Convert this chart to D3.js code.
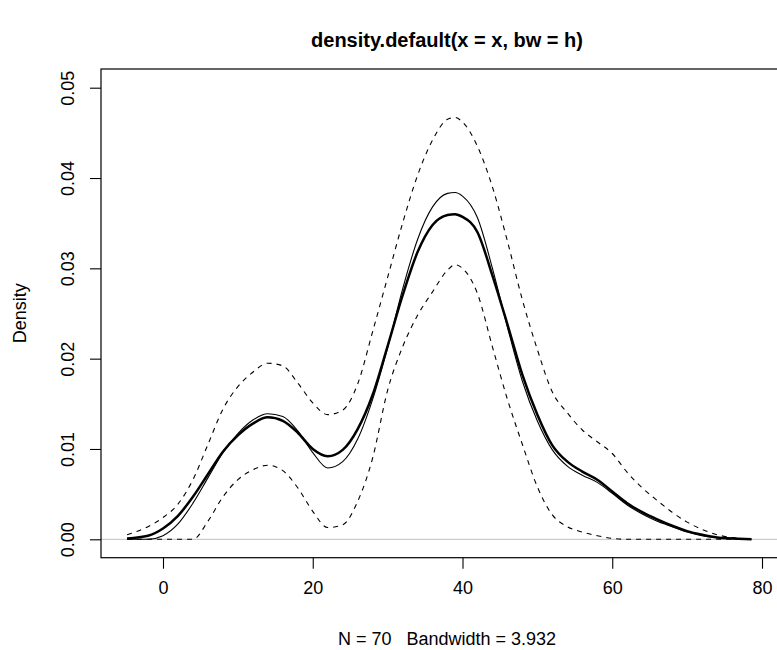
<!DOCTYPE html>
<html>
<head>
<meta charset="utf-8">
<script src="https://cdn.jsdelivr.net/npm/d3@7"></script>
<style>
  body { margin: 0; background: #fff; }
  svg text { font-family: "Liberation Sans", Arial, Helvetica, sans-serif; fill: #000; }
</style>
</head>
<body>
<svg id="vis-container"></svg>
<script>
const WIDTH = 777
const HEIGHT = 650
const BOX = { left: 101, top: 69, right: 793, bottom: 557.7 }
const CONTAINER = d3.select("#vis-container")

// grid of x positions the curves were read at
const xGrid = [-4.8, -2, 0, 2, 4, 6, 8, 10, 12, 14, 16, 18, 20, 22, 24, 26, 28, 30, 32, 34, 36, 38, 39, 40,
    42, 44, 46, 48, 50, 52, 54, 56, 58, 60, 62, 64, 66, 68, 70, 72, 74, 76, 78.6]

// thick solid: the density estimate
const estimate = [0.0001, 0.0004, 0.0012, 0.0026, 0.0047, 0.0072, 0.0097, 0.0115, 0.0128, 0.0135, 0.0131, 0.0118,
    0.0100, 0.0092, 0.0099, 0.0122, 0.0160, 0.0214, 0.0270, 0.0318, 0.0348, 0.0359, 0.0360, 0.0357,
    0.0340, 0.0292, 0.0238, 0.0182, 0.0138, 0.0104, 0.0086, 0.0075, 0.0066, 0.0053, 0.0040, 0.0030,
    0.0022, 0.0015, 0.0009, 0.0005, 0.0002, 0.0001, 0.0000]

// thin solid
const thinCurve = [0.0000, 0.0000, 0.0004, 0.0017, 0.0040, 0.0068, 0.0096, 0.0117, 0.0132, 0.0139, 0.0136, 0.0120,
    0.0096, 0.0079, 0.0086, 0.0111, 0.0155, 0.0212, 0.0277, 0.0332, 0.0368, 0.0383, 0.0384, 0.0380,
    0.0356, 0.0300, 0.0235, 0.0175, 0.0131, 0.0099, 0.0081, 0.0071, 0.0063, 0.0051, 0.0038, 0.0028,
    0.0020, 0.0014, 0.0008, 0.0004, 0.0002, 0.0001, 0.0000]

// dashed bands
const upperBand = [0.0005, 0.0014, 0.0024, 0.0039, 0.0066, 0.0105, 0.0144, 0.0169, 0.0185, 0.0195, 0.0192, 0.0173,
    0.0151, 0.0138, 0.0143, 0.0172, 0.0230, 0.0290, 0.0350, 0.0403, 0.0442, 0.0465, 0.0467, 0.0462,
    0.0435, 0.0390, 0.0330, 0.0265, 0.0210, 0.0163, 0.0140, 0.0121, 0.0108, 0.0095, 0.0074, 0.0057,
    0.0043, 0.0030, 0.0019, 0.0011, 0.0005, 0.0002, 0.0000]

const lowerBand = [0.0000, 0.0000, 0.0000, 0.0000, 0.0000, 0.0020, 0.0047, 0.0066, 0.0077, 0.0082, 0.0076, 0.0057,
    0.0031, 0.0013, 0.0016, 0.0042, 0.0090, 0.0165, 0.0213, 0.0248, 0.0274, 0.0298, 0.0304, 0.0300,
    0.0272, 0.0213, 0.0155, 0.0105, 0.0058, 0.0027, 0.0014, 0.0008, 0.0004, 0.0001, 0.0000, 0.0000,
    0.0000, 0.0000, 0.0000, 0.0000, 0.0000, 0.0000, 0.0000]

const xTicks = [0, 20, 40, 60, 80]
const yTicks = [0, 0.01, 0.02, 0.03, 0.04, 0.05]

const titleText = "density.default(x = x, bw = h)"
const xLabel = "N = 70   Bandwidth = 3.932"
const yLabel = "Density"

const x = d3.scaleLinear().domain([0, 80]).range([163, 762])
const y = d3.scaleLinear().domain([0, 0.05]).range([539.3, 87.7])

initVisualization()

function initVisualization() {
    CONTAINER
        .attr('width', WIDTH)
        .attr('height', HEIGHT)

    // zero reference line
    CONTAINER.append('line')
        .attr('x1', BOX.left).attr('x2', BOX.right)
        .attr('y1', y(0)).attr('y2', y(0))
        .attr('stroke', '#bebebe')
        .attr('stroke-width', 1)

    drawCurve(lowerBand, { width: 1.1, dash: '5,5' })
    drawCurve(upperBand, { width: 1.1, dash: '5,5' })
    drawCurve(thinCurve, { width: 1.1 })
    drawCurve(estimate, { width: 2.5 })

    // box
    CONTAINER.append('rect')
        .attr('x', BOX.left).attr('y', BOX.top)
        .attr('width', BOX.right - BOX.left)
        .attr('height', BOX.bottom - BOX.top)
        .attr('fill', 'none')
        .attr('stroke', '#000')
        .attr('stroke-width', 1.2)

    const xAxis = CONTAINER.append('g')
        .attr('transform', `translate(0,${BOX.bottom})`)
        .call(d3.axisBottom(x).tickValues(xTicks).tickSize(11).tickPadding(13).tickFormat(d3.format('d')))
    styleAxis(xAxis)
    xAxis.selectAll('text').attr('dy', '0.71em')

    const yAxis = CONTAINER.append('g')
        .attr('transform', `translate(${BOX.left},0)`)
        .call(d3.axisLeft(y).tickValues(yTicks).tickSize(11).tickFormat(d3.format('.2f')))
    styleAxis(yAxis)
    yAxis.selectAll('text')
        .attr('x', null).attr('dy', null)
        .attr('text-anchor', 'middle')
        .attr('transform', 'translate(-27,0) rotate(-90)')

    CONTAINER.append('text')
        .attr('x', (BOX.left + BOX.right) / 2)
        .attr('y', 47)
        .attr('text-anchor', 'middle')
        .style('font-weight', 'bold')
        .style('font-size', '20px')
        .text(titleText)

    CONTAINER.append('text')
        .attr('x', (BOX.left + BOX.right) / 2)
        .attr('y', 645)
        .attr('text-anchor', 'middle')
        .style('font-size', '18px')
        .style('white-space', 'pre')
        .text(xLabel)

    CONTAINER.append('text')
        .attr('transform', `translate(26,${(BOX.top + BOX.bottom) / 2}) rotate(-90)`)
        .attr('text-anchor', 'middle')
        .style('font-size', '18px')
        .text(yLabel)
}

function styleAxis(axis) {
    axis.select('.domain').remove()
    axis.selectAll('line').attr('stroke', '#000').attr('stroke-width', 1.1)
    axis.selectAll('text')
        .style('font-size', '18px')
        .style('font-family', '"Liberation Sans", Arial, Helvetica, sans-serif')
        .attr('fill', '#000')
}

function drawCurve(values, { width, dash }) {
    const points = xGrid.map((xv, i) => [xv, values[i]])
    const line = d3.line()
        .x(d => x(d[0]))
        .y(d => y(d[1]))
        .curve(d3.curveMonotoneX)

    CONTAINER.append('path')
        .datum(points)
        .attr('d', line)
        .attr('fill', 'none')
        .attr('stroke', '#000')
        .attr('stroke-width', width)
        .attr('stroke-dasharray', dash || null)
        .attr('stroke-linejoin', 'round')
}
</script>
</body>
</html>
